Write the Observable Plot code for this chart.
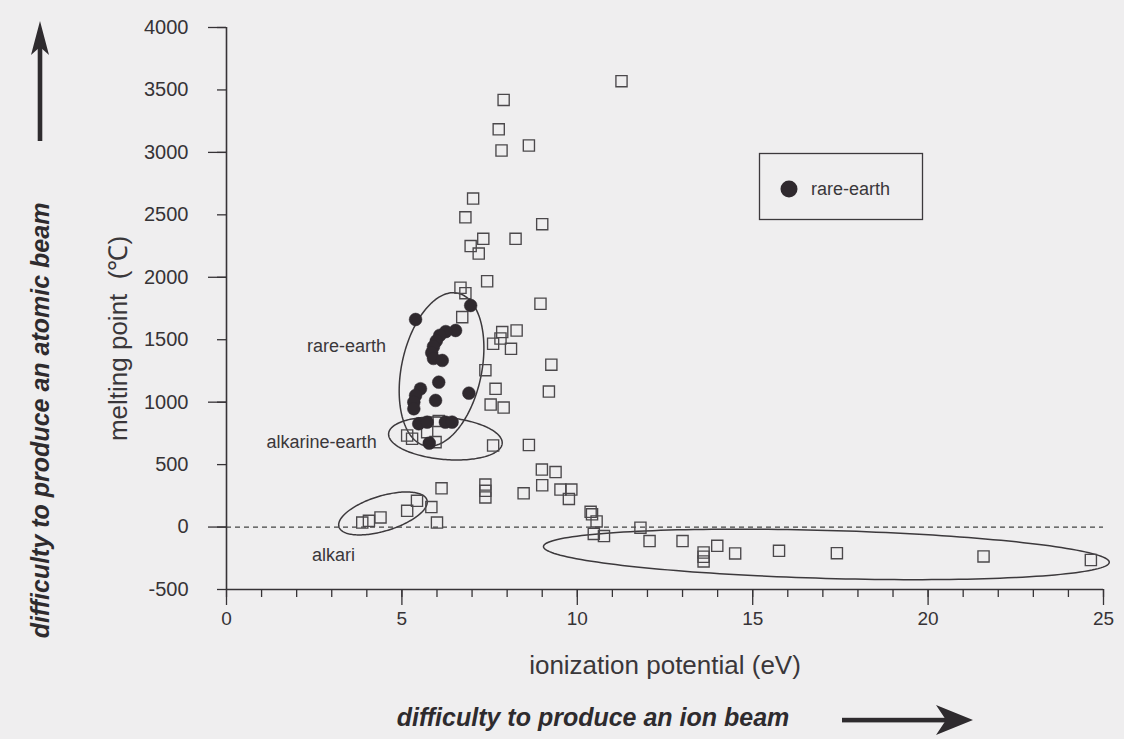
<!DOCTYPE html>
<html>
<head>
<meta charset="utf-8">
<script src="https://cdn.jsdelivr.net/npm/d3@7"></script>
<script src="https://cdn.jsdelivr.net/npm/@observablehq/plot@0.6"></script>
<style>
  html, body { margin: 0; padding: 0; background: #efeeef; }
  #chart { width: 1124px; height: 739px; }
  svg { display: block; }
</style>
</head>
<body>
<div id="chart"></div>
<script>
// Ionization potential (eV) against melting point (°C) of the elements.

// Elements other than the rare earths (open squares)
const otherIP = [11.26, 7.90, 7.76, 7.84, 8.62, 7.03, 6.81, 9.00, 7.32, 8.24, 6.96, 7.19,
  7.43, 6.67, 6.81, 6.72, 8.95, 8.27, 7.86, 7.81, 7.60, 8.11, 9.26, 7.38, 7.67, 9.19,
  7.53, 7.90, 8.62, 7.60, 8.99, 9.38, 9.00, 8.47, 9.52, 9.83, 9.76, 7.38, 7.38, 7.38,
  6.13, 5.84, 6.00, 5.43, 5.15, 4.39, 4.06, 3.87, 5.15, 5.29, 5.72, 5.96, 6.05,
  10.38, 10.42, 10.55, 10.47, 10.76, 11.80, 12.06, 13.00, 13.99, 13.60, 13.60, 13.60,
  14.50, 15.75, 17.40, 21.58, 24.64];
const otherMP = [3570, 3420, 3185, 3015, 3055, 2630, 2480, 2425, 2308, 2308, 2250, 2190,
  1968, 1916, 1873, 1681, 1788, 1574, 1561, 1510, 1468, 1427, 1300, 1256, 1107, 1085,
  981, 957, 657, 653, 460, 440, 335, 270, 300, 300, 225, 340, 290, 237,
  310, 160, 36, 210, 130, 77, 50, 36, 733, 707, 760, 680, 850,
  122, 102, 45, -55, -72, -5, -112, -112, -150, -204, -238, -275,
  -211, -190, -209, -235, -264];

// Rare-earth elements (filled circles)
const rareIP = [5.39, 6.96, 6.53, 6.25, 6.08, 5.98, 5.90, 5.85, 5.90, 6.15,
  6.05, 5.53, 5.39, 5.34, 5.34, 5.96, 6.91, 5.48, 5.72, 6.24, 6.43, 5.78];
const rareMP = [1662, 1774, 1574, 1565, 1535, 1490, 1445, 1395, 1350, 1334,
  1160, 1107, 1054, 1000, 947, 1014, 1072, 827, 840, 840, 840, 672];

// Axis ticks
const xMajor = [0, 5, 10, 15, 20, 25];
const xMinor = d3.range(0, 26, 1);
const yLabelled = [-500, 0, 500, 1000, 1500, 2000, 2500, 3000, 3500, 4000];
const yLong = [0, 1000, 2000, 3000, 4000];

// Group annotations
const groupNames = ["rare-earth", "alkarine-earth", "alkari"];
const groupX = [4.55, 4.28, 2.44];
const groupY = [1446, 677, -227];
const groupAnchor = ["end", "end", "start"];

// Enclosing ellipses: centre in data units, semi-axes and tilt on screen (px, degrees)
const ellipseCX = [6.13, 6.24, 4.46, 17.1];
const ellipseCY = [1262, 709, 109, -219];
const ellipseA = [78, 57, 46, 283];
const ellipseB = [40, 21, 17.5, 24];
const ellipseTilt = [78, -5, 17, -1.6];

// Layout
const W = 1124, H = 739;
const mL = 226, mR = 21, mT = 27, mB = 150;
const xDomain = [0, 25], yDomain = [-500, 4000];
const kx = (W - mL - mR) / (xDomain[1] - xDomain[0]);
const ky = (H - mT - mB) / (yDomain[1] - yDomain[0]);

const ink = "#363336";
const font = "'Liberation Sans', Arial, Helvetica, sans-serif";
const plain = d => String(d);

const others = otherIP.map((x, i) => ({x, y: otherMP[i]}));
const rares = rareIP.map((x, i) => ({x, y: rareMP[i]}));
const groups = groupNames.map((name, i) => ({name, x: groupX[i], y: groupY[i], anchor: groupAnchor[i]}));

const ellipsePts = [];
ellipseCX.forEach((cx, i) => {
  const th = ellipseTilt[i] * Math.PI / 180;
  for (let d = 0; d <= 360; d += 2) {
    const t = d * Math.PI / 180;
    const ox = ellipseA[i] * Math.cos(t), oy = ellipseB[i] * Math.sin(t);
    const rx = ox * Math.cos(th) - oy * Math.sin(th);
    const ry = ox * Math.sin(th) + oy * Math.cos(th);
    ellipsePts.push({id: i, x: cx + rx / kx, y: ellipseCY[i] + ry / ky});
  }
});

const chart = Plot.plot({
  width: W,
  height: H,
  marginLeft: mL, marginRight: mR, marginTop: mT, marginBottom: mB,
  style: {background: "#efeeef", fontFamily: font, color: ink, overflow: "visible"},
  x: {domain: xDomain},
  y: {domain: yDomain},
  marks: [
    Plot.line(ellipsePts, {x: "x", y: "y", z: "id", stroke: "#3c393c", strokeWidth: 1.5}),
    Plot.ruleY([0], {x1: 0, x2: 25, stroke: "#444", strokeWidth: 1.3, strokeDasharray: "5,4"}),
    Plot.dot(others, {x: "x", y: "y", symbol: "square", r: 6.3, fill: "none", stroke: "#4b484b", strokeWidth: 1.35}),
    Plot.dot(rares, {x: "x", y: "y", r: 6.4, fill: "#2f292e", stroke: "#2f292e", strokeWidth: 0.5}),
    Plot.text(groups.filter(g => g.anchor === "end"), {x: "x", y: "y", text: "name", textAnchor: "end", fontSize: 18, fill: "#3a373a"}),
    Plot.text(groups.filter(g => g.anchor === "start"), {x: "x", y: "y", text: "name", textAnchor: "start", fontSize: 18, fill: "#3a373a"}),
    // axis lines
    Plot.ruleY([-500], {stroke: ink, strokeWidth: 1.6}),
    Plot.ruleX([0], {stroke: ink, strokeWidth: 1.6}),
    // axes
    Plot.axisX(xMinor, {tickSize: 8, tickFormat: () => "", label: null, color: ink, strokeWidth: 1.3}),
    Plot.axisX(xMajor, {tickSize: 16, tickPadding: 6, tickFormat: plain, fontSize: 19, label: null, color: ink, strokeWidth: 1.3}),
    Plot.axisY(yLabelled, {tickSize: 9, tickPadding: 29, tickFormat: plain, fontSize: 20, label: null, color: ink, strokeWidth: 1.3}),
    Plot.axisY(yLong, {tickSize: 18, tickFormat: () => "", label: null, color: ink, strokeWidth: 1.3}),
    // axis titles
    Plot.text(["ionization potential (eV)"], {frameAnchor: "bottom", dy: 84, fontSize: 26, fill: "#3a373a", ariaLabel: "x title"}),
    Plot.text(["melting point  (℃)"], {frameAnchor: "left", textAnchor: "middle", dx: -108, dy: 30, rotate: -90, fontSize: 26, fill: "#3a373a", ariaLabel: "y title"}),
    Plot.text(["difficulty to produce an ion beam"], {frameAnchor: "bottom", dx: -72, dy: 136, fontSize: 25, fontStyle: "italic", fontWeight: "bold", fill: "#2e2b2e", ariaLabel: "x note"}),
    Plot.text(["difficulty to produce an atomic beam"], {frameAnchor: "left", textAnchor: "middle", dx: -186, dy: 112, rotate: -90, fontSize: 25, fontStyle: "italic", fontWeight: "bold", fill: "#2e2b2e", ariaLabel: "y note"})
  ]
});

document.getElementById("chart").appendChild(chart);

const svg = d3.select(chart);
svg.selectAll('g[aria-label="x title"] text').attr("letter-spacing", "0.8px");
svg.selectAll('g[aria-label="y title"] text').attr("letter-spacing", "0.8px");
svg.selectAll('g[aria-label="x note"] text').attr("letter-spacing", "0.8px");
svg.selectAll('g[aria-label="y note"] text').attr("letter-spacing", "1.2px");

// Direction arrows beside the notes
const deco = svg.append("g").attr("fill", "#2e2b2e");
deco.append("rect").attr("x", 842).attr("y", 717.8).attr("width", 104).attr("height", 4.6);
deco.append("path").attr("d", "M973,720 L936,705 L946,720 L936,735 Z");
deco.append("rect").attr("x", 37.7).attr("y", 44).attr("width", 4.6).attr("height", 97);
deco.append("path").attr("d", "M40,21 L31,55 L40,47 L49,55 Z");

// Legend
const leg = svg.append("g");
leg.append("rect").attr("x", 759.5).attr("y", 153.5).attr("width", 163).attr("height", 66)
  .attr("fill", "none").attr("stroke", "#3c393c").attr("stroke-width", 1.3);
leg.append("circle").attr("cx", 789).attr("cy", 189).attr("r", 8.5).attr("fill", "#2f292e");
leg.append("text").attr("x", 811).attr("y", 189).attr("dy", "0.35em").attr("text-anchor", "start")
  .attr("font-size", 18).attr("fill", "#3a373a").attr("font-family", font).text("rare-earth");
</script>
</body>
</html>
